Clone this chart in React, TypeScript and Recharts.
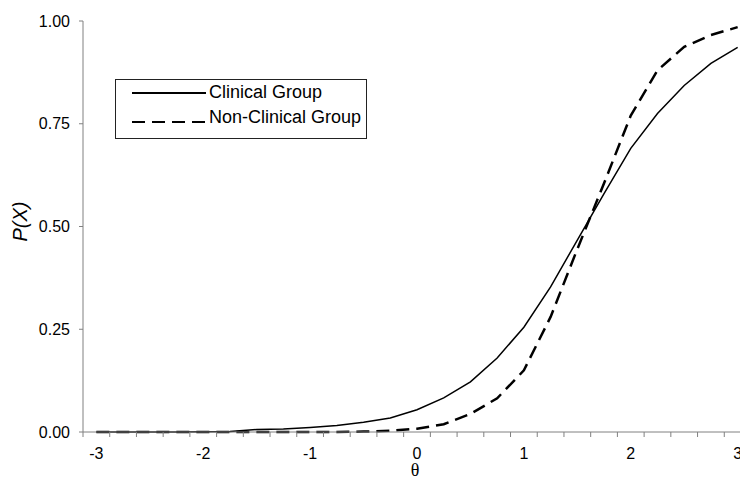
import React from "react";
import { LineChart, Line, XAxis, YAxis, Legend } from "recharts";

const theta = [-3, -2.75, -2.5, -2.25, -2, -1.75, -1.5, -1.25, -1, -0.75, -0.5, -0.25, 0, 0.25, 0.5, 0.75, 1, 1.25, 1.5, 1.75, 2, 2.25, 2.5, 2.75, 3];
const clinical = [0, 0, 0, 0, 0.0005, 0.001, 0.006, 0.007, 0.011, 0.016, 0.024, 0.034, 0.054, 0.083, 0.122, 0.18, 0.255, 0.353, 0.467, 0.58, 0.69, 0.775, 0.843, 0.897, 0.936];
const nonClinical = [0, 0, 0, 0, 0, 0, 0, 0, 0, 0, 0.001, 0.003, 0.008, 0.019, 0.044, 0.082, 0.15, 0.28, 0.445, 0.605, 0.77, 0.88, 0.937, 0.966, 0.985];

const yTicks = [0, 0.25, 0.5, 0.75, 1];
const xLabels = [-3, -2, -1, 0, 1, 2, 3];
// tick marks sit between the categories, like Excel does
const xMinorTicks = [-3.125, -2.875, -2.625, -2.375, -2.125, -1.875, -1.625, -1.375, -1.125, -0.875, -0.625, -0.375, -0.125, 0.125, 0.375, 0.625, 0.875, 1.125, 1.375, 1.625, 1.875, 2.125, 2.375, 2.625, 2.875, 3.125];

const series = [
  { key: "clinical", name: "Clinical Group", dash: undefined, width: 1.5 },
  { key: "nonClinical", name: "Non-Clinical Group", dash: "13 7", width: 2.5 },
];

const data = theta.map((t, i) => ({ theta: t, clinical: clinical[i], nonClinical: nonClinical[i] }));
const xTicks = [...xMinorTicks, ...xLabels].sort((a, b) => a - b);

const SANS = "'Liberation Sans', Arial, sans-serif";
const AXIS = "#808080";

function XTick({ x, y, payload }: any) {
  const v = payload.value;
  if (Number.isInteger(v)) {
    return (
      <text x={x} y={y + 27} textAnchor="middle" fontSize={16} fontFamily={SANS} fill="#000">
        {v}
      </text>
    );
  }
  return <line x1={x} x2={x} y1={y} y2={y + 5} stroke={AXIS} />;
}

function YLabel({ viewBox }: any) {
  const cx = viewBox.x + 20;
  const cy = viewBox.y + viewBox.height / 2 - 5;
  return (
    <text x={cx} y={cy} transform={`rotate(-90, ${cx}, ${cy})`} textAnchor="middle" dominantBaseline="central" fontSize={20} fontStyle="italic" fontFamily={SANS} fill="#000">
      P(X)
    </text>
  );
}

function XLabel({ viewBox }: any) {
  const cx = viewBox.x + viewBox.width / 2 - 2;
  return (
    <text x={cx} y={viewBox.y + 44} textAnchor="middle" fontSize={18} fontFamily="'Liberation Serif', 'Times New Roman', serif" fill="#000">
      θ
    </text>
  );
}

function LegendBox() {
  return (
    <svg width={252} height={60} style={{ display: "block" }}>
      <rect x={0.5} y={0.5} width={251} height={59} fill="#fff" stroke="#222" />
      {series.map((s, i) => (
        <g key={s.key}>
          <line x1={17} x2={91} y1={14 + i * 29} y2={14 + i * 29} stroke="#000" strokeWidth={2} strokeDasharray={s.dash} />
          <text x={94} y={19 + i * 25} fontSize={18} fontFamily={SANS} fill="#000">
            {s.name}
          </text>
        </g>
      ))}
    </svg>
  );
}

export default function App() {
  return (
    <div style={{ position: "fixed", left: 0, top: 0, width: 740, height: 479, overflow: "hidden", background: "#fff" }}>
      <LineChart width={771} height={479} data={data} margin={{ top: 21, right: 20, left: 0, bottom: 0 }}>
        <XAxis
          dataKey="theta"
          type="number"
          domain={[-3.125, 3.125]}
          ticks={xTicks}
          interval={0}
          tickLine={false}
          tickSize={0}
          tickMargin={0}
          tick={<XTick />}
          stroke={AXIS}
          height={47}
          label={<XLabel />}
        />
        <YAxis
          type="number"
          domain={[0, 1]}
          ticks={yTicks}
          width={83}
          tickSize={4}
          tickMargin={9}
          tickFormatter={(v: number) => v.toFixed(2)}
          tick={{ fill: "#000", fontSize: 16, fontFamily: SANS }}
          stroke={AXIS}
          label={<YLabel />}
        />
        <Legend
          layout="horizontal"
          verticalAlign="middle"
          align="center"
          content={<LegendBox />}
          wrapperStyle={{ left: 115, top: 79, width: 252, height: 60 }}
        />
        {series.map((s) => (
          <Line
            key={s.key}
            type="linear"
            dataKey={s.key}
            name={s.name}
            stroke="#000"
            strokeWidth={s.width}
            strokeDasharray={s.dash}
            dot={false}
            activeDot={false}
            isAnimationActive={false}
          />
        ))}
      </LineChart>
    </div>
  );
}
